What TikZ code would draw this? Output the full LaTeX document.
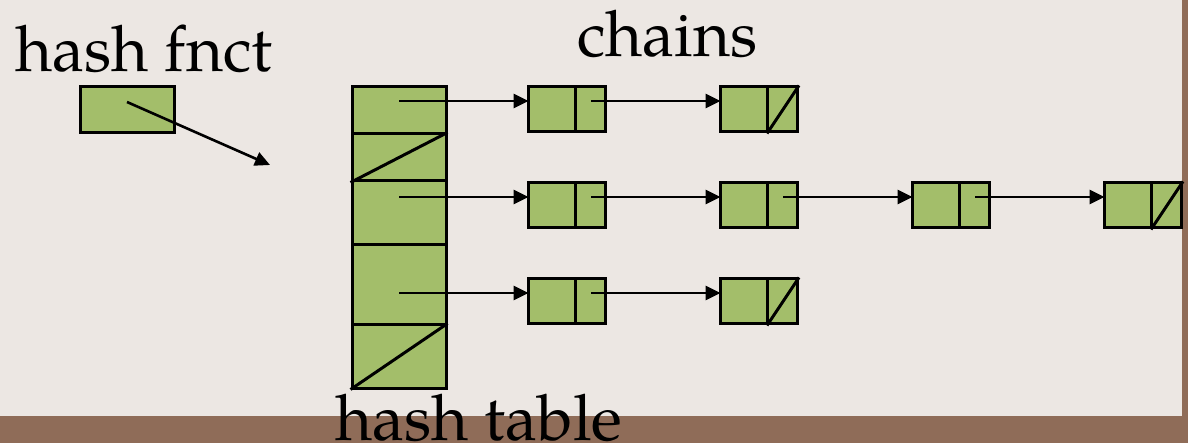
\documentclass[tikz,border=0pt]{standalone}
\usepackage{fontspec}
\setmainfont{TeX Gyre Pagella}
\usetikzlibrary{arrows.meta,calc}
\definecolor{bgc}{HTML}{ECE7E3}
\definecolor{brownc}{HTML}{8F6C58}
\definecolor{greenc}{HTML}{A3BE6A}
\tikzset{
  cell/.style={draw=black, fill=greenc, line width=3pt, inner sep=0pt},
  tcell/.style={cell, minimum width=94pt},
  lnode/.style={cell, minimum width=77pt, minimum height=45pt},
  link/.style={line width=2.6pt, -{Triangle[length=15pt,width=14pt]}},
  slash/.style={line width=3pt},
  lbl/.style={anchor=base west, inner sep=0pt, font=\fontsize{64}{70}\selectfont}
}
\begin{document}
\begin{tikzpicture}[x=1pt,y=-1pt]
\useasboundingbox (0,0) rectangle (1188,443);
\fill[bgc] (0,0) rectangle (1188,443);
\fill[brownc] (0,416) rectangle (1188,443);
\fill[brownc] (1182,0) rectangle (1188,443);

% hash function box
\node[cell, minimum width=94pt, minimum height=46pt] (hf) at (127,110) {};
\coordinate (hfs) at (127,102);
\coordinate (hfe) at (270,165);
\draw[link] (hfs) -- (hfe);

% hash table
\node[tcell, minimum height=47pt] (t1) at (399,110.5) {};
\node[tcell, minimum height=47pt] (t2) at (399,157.5) {};
\node[tcell, minimum height=64pt] (t3) at (399,213) {};
\node[tcell, minimum height=80pt] (t4) at (399,285) {};
\node[tcell, minimum height=63pt] (t5) at (399,356.5) {};
\draw[slash] (t2.south west) -- (t2.north east);
\draw[slash] (t5.south west) -- (t5.north east);

% chain nodes
\foreach \r/\y in {a/109.5,b/205.5,c/301.5}{
  \foreach \c/\x in {1/567,2/759,3/951,4/1143}{
    \coordinate (p\r\c) at (\x+24,\y-8.5);
    \coordinate (i\r\c) at (\x-38.5,\y-8.5);
  }
}
\foreach \n/\x/\y in {a1/567/109.5,a2/759/109.5,b1/567/205.5,b2/759/205.5,b3/951/205.5,b4/1143/205.5,c1/567/301.5,c2/759/301.5}{
  \node[lnode] (n\n) at (\x,\y) {};
  \draw[slash] ($(n\n.north)+(8,0)$) -- ($(n\n.south)+(8,0)$);
}
% null pointers
\foreach \n in {a2,b4,c2}{
  \draw[slash] ($(n\n.south)+(8,0)$) -- (n\n.north east);
}

% table pointers
\coordinate (ta) at (399,101);
\coordinate (tb) at (399,197);
\coordinate (tc) at (399,293);
\draw[link] (ta) -- (ia1);
\draw[link] (tb) -- (ib1);
\draw[link] (tc) -- (ic1);

% chain links
\draw[link] (pa1) -- (ia2);
\draw[link] (pb1) -- (ib2);
\draw[link] (pb2) -- (ib3);
\draw[link] (pb3) -- (ib4);
\draw[link] (pc1) -- (ic2);

% labels
\node[lbl] (l1) at (15,72) {hash fnct};
\node[lbl] (l2) at (577,57) {chains};
\node[lbl] (l3) at (335,440) {hash table};
\end{tikzpicture}
\end{document}
